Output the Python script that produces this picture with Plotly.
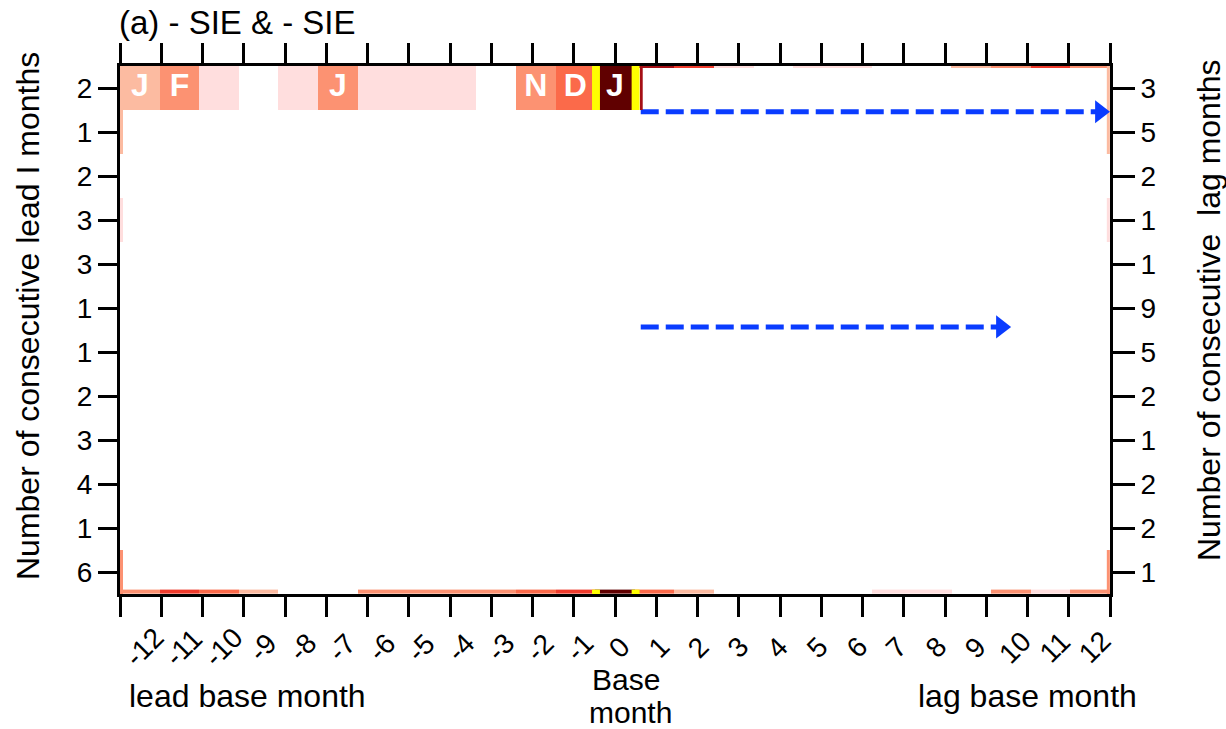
import plotly.graph_objects as go

# ---------------- data ----------------
months_lead = ["J", "F", "M", "A", "M", "J", "J", "A", "S", "O", "N", "D", "J"]
lead_letter_shown = [1, 1, 0, 0, 0, 1, 0, 0, 0, 0, 1, 1, 1]
# colour-level index (0 = white ... 8 = darkest) for the first row, lead months -12..0
row1_lead_level = [2, 3, 1, 0, 1, 3, 1, 1, 1, 0, 3, 4, 8]
# thin strip along the bottom row, all 25 months (-12..12)
bottom_strip_level = [3, 5, 4, 2, 0, 0, 3, 3, 3, 3, 4, 5, 8, 4, 2, 0, 0, 0, 0, 1, 1, 0, 3, 1, 3]
# thin strip along top edge of the lag half (months 1..12)
top_lag_strip_level = [7, 5, 1, 0, 1, 1, 0, 0, 2, 3, 5, 3]
# thin strips along left and right frame edges, rows top -> bottom
left_edge_level = [2, 2, 0, 1, 0, 0, 0, 0, 0, 0, 0, 3]
right_edge_level = [2, 2, 0, 1, 0, 0, 0, 0, 0, 0, 0, 3]

x_tick_labels = [str(m) for m in range(-12, 13)]
left_row_labels = ["2", "1", "2", "3", "3", "1", "1", "2", "3", "4", "1", "6"]
right_row_labels = ["3", "5", "2", "1", "1", "9", "5", "2", "1", "2", "2", "1"]

base_index = 12
arrow_row_y = [10.96, 6.07]
arrow_start = [13.15, 13.15]
arrow_end = [25.0, 22.5]

palette = ["#ffffff", "#ffdede", "#fcbba1", "#fc9272", "#fb6a4a",
           "#ef3b2c", "#cb181d", "#a50f15", "#600000"]

# ---------------- helpers ----------------
W, H = 1226, 729
L, R, T, B = 120, 1110, 66, 594
NCELL = len(x_tick_labels)
NROW = len(left_row_labels)

def px_x(p):
    return (p - L) / (R - L)

def px_y(p):
    return (B - p) / (B - T)

n = len(palette)
colorscale = []
for i, c in enumerate(palette):
    colorscale += [[i / n, c], [(i + 1) / n, c]]

def lv(v):
    return None if v == 0 else v

def strip(z, x, y):
    return go.Heatmap(z=z, x=x, y=y, colorscale=colorscale, zmin=-0.5, zmax=n - 0.5,
                      showscale=False, hoverinfo="skip", xgap=0, ygap=0)

fig = go.Figure()

row_top = NROW  # data y of top edge
# first row: lead cells
z1 = [[v for v in row1_lead_level] + [None] * (NCELL - len(row1_lead_level))]
fig.add_trace(strip(z1, list(range(NCELL + 1)), [row_top - 1, row_top]))

# bottom strip
fig.add_trace(strip([[lv(v) for v in bottom_strip_level]], list(range(NCELL + 1)), [0, 0.1]))

# top strip of lag half
lag0 = len(row1_lead_level)
fig.add_trace(strip([[lv(v) for v in top_lag_strip_level]],
                    list(range(lag0, NCELL + 1)), [row_top - 0.05, row_top]))

# left / right edge strips
ys = [NROW - i for i in range(NROW + 1)][::-1]
fig.add_trace(strip([[lv(v)] for v in left_edge_level[::-1]], [0, 0.08], ys))
fig.add_trace(strip([[lv(v)] for v in right_edge_level[::-1]], [NCELL - 0.08, NCELL], ys))

# letters in cells
lx = [i + 0.5 for i, s in enumerate(lead_letter_shown) if s]
lt = ["<b>%s</b>" % months_lead[i] for i, s in enumerate(lead_letter_shown) if s]
fig.add_trace(go.Scatter(x=lx, y=[row_top - 0.5] * len(lx), text=lt, mode="text",
                         textfont=dict(family="Liberation Sans", size=32, color="white"),
                         hoverinfo="skip", showlegend=False))

# arrows
for y0, xs, xe in zip(arrow_row_y, arrow_start, arrow_end):
    head = xe - 0.25
    fig.add_trace(go.Scatter(x=[xs, head], y=[y0, y0], mode="lines",
                             line=dict(color="#0a3cff", width=5, dash="18px,7px"),
                             hoverinfo="skip", showlegend=False))
    fig.add_trace(go.Scatter(x=[head], y=[y0], mode="markers",
                             marker=dict(symbol="triangle-right", size=20, color="#0a3cff"),
                             hoverinfo="skip", showlegend=False))

# base month highlight (yellow bars) and lag-box left edge
shapes = []
for edge in (base_index, base_index + 1):
    for (ya, yb) in ((row_top - 1, row_top), (0, 0.1)):
        shapes.append(dict(type="rect", xref="x", yref="y", x0=edge - 0.08, x1=edge + 0.12,
                           y0=ya, y1=yb, fillcolor="#ffff00", line=dict(width=0)))
shapes.append(dict(type="rect", xref="x", yref="y", x0=lag0 + 0.13, x1=lag0 + 0.2,
                   y0=row_top - 1, y1=row_top, fillcolor="#a50f15", line=dict(width=0)))

# tick labels as rotated annotations centred on the cells
ann = []
for k, lab in enumerate(x_tick_labels):
    ann.append(dict(x=k + 0.6, y=0, xref="x", yref="paper", yshift=-53, text=lab,
                    showarrow=False, textangle=-45, xanchor="center", yanchor="middle",
                    font=dict(family="Liberation Sans", size=28, color="black")))

txt_font = dict(family="Liberation Sans", size=32, color="black")
mid_font = dict(family="Liberation Sans", size=30, color="black")
ann += [
    dict(x=px_x(117), y=px_y(22), xref="paper", yref="paper", text="(a) - SIE & - SIE",
         showarrow=False, xanchor="left", yanchor="middle", font=dict(family="Liberation Sans", size=33, color="black")),
    dict(x=px_x(28), y=px_y(316), xref="paper", yref="paper",
         text="Number of consecutive lead I months", textangle=-90,
         showarrow=False, xanchor="center", yanchor="middle", font=txt_font),
    dict(x=px_x(1209), y=px_y(310), xref="paper", yref="paper",
         text="Number of consecutive\u00a0 lag months", textangle=-90,
         showarrow=False, xanchor="center", yanchor="middle", font=txt_font),
    dict(x=px_x(247), y=px_y(696), xref="paper", yref="paper", text="lead base month",
         showarrow=False, xanchor="center", yanchor="middle", font=txt_font),
    dict(x=px_x(626), y=px_y(679), xref="paper", yref="paper", text="Base",
         showarrow=False, xanchor="center", yanchor="middle", font=mid_font),
    dict(x=px_x(630), y=px_y(712), xref="paper", yref="paper", text="month",
         showarrow=False, xanchor="center", yanchor="middle", font=mid_font),
    dict(x=px_x(1027), y=px_y(696), xref="paper", yref="paper", text="lag base month",
         showarrow=False, xanchor="center", yanchor="middle", font=txt_font),
]

tick_pos = [(m + 12) * NCELL / (NCELL - 1) for m in range(-12, 13)]
row_centres = [NROW - 0.5 - i for i in range(NROW)]

fig.update_layout(
    width=W, height=H,
    margin=dict(l=L, r=W - R, t=T, b=H - B, pad=0),
    paper_bgcolor="white", plot_bgcolor="white",
    showlegend=False,
    shapes=shapes, annotations=ann,
    xaxis=dict(range=[0, NCELL], tickvals=tick_pos, showticklabels=False,
               ticks="outside", ticklen=20, tickwidth=2.5, tickcolor="black",
               showline=True, linecolor="black", linewidth=3, mirror="ticks",
               showgrid=False, zeroline=False, fixedrange=True),
    yaxis=dict(range=[0, NROW], tickvals=row_centres, ticktext=left_row_labels,
               ticks="outside", ticklen=19, tickwidth=2.5, tickcolor="black",
               showline=True, linecolor="black", linewidth=3,
               tickfont=dict(family="Liberation Sans", size=28, color="black"),
               showgrid=False, zeroline=False, fixedrange=True),
    yaxis2=dict(range=[0, NROW], tickvals=row_centres, ticktext=right_row_labels,
                overlaying="y", side="right", anchor="x",
                ticks="outside", ticklen=22, tickwidth=2.5, tickcolor="black",
                showline=True, linecolor="black", linewidth=3,
                tickfont=dict(family="Liberation Sans", size=28, color="black"),
                showgrid=False, zeroline=False, fixedrange=True),
)

# invisible trace to activate right axis
fig.add_trace(go.Scatter(x=[0], y=[0], yaxis="y2", mode="markers",
                         marker=dict(opacity=0), hoverinfo="skip", showlegend=False))

fig.write_html("out.html")
